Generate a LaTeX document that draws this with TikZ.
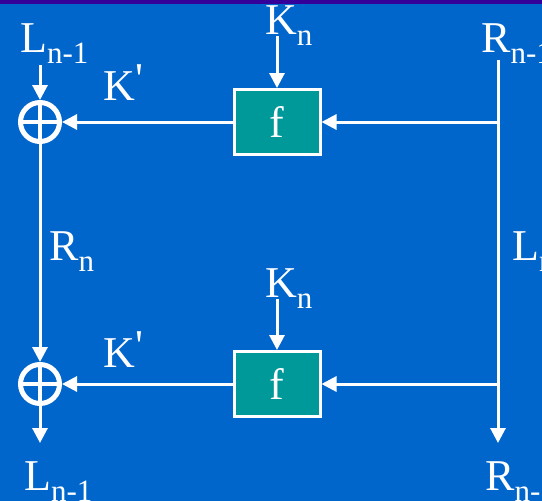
\documentclass[tikz,border=0pt]{standalone}
\usepackage{fontspec}
\setmainfont{Liberation Serif}
\usetikzlibrary{arrows.meta}

\definecolor{fond}{HTML}{0066CC}
\definecolor{bande}{HTML}{330099}
\definecolor{sarcelle}{HTML}{009999}

\newcommand{\indice}[1]{\raisebox{-11pt}{\fontsize{31}{31}\selectfont #1}}
\newcommand{\prim}{\kern1pt\raisebox{.15em}{\textquotesingle}}

\tikzset{
  fleche/.style={white, line width=3pt, -{Triangle[width=15pt,length=15pt]}},
  xor/.style={circle, draw=white, line width=5pt, minimum size=39pt, inner sep=0pt,
    path picture={
      \draw[white, line width=3.5pt] (path picture bounding box.north) -- (path picture bounding box.south);
      \draw[white, line width=3.5pt] (path picture bounding box.west) -- (path picture bounding box.east);
    }},
  fonction/.style={draw=white, fill=sarcelle, line width=3pt, minimum width=86pt,
    minimum height=65pt, inner sep=0pt, text=white, font=\fontsize{44}{48}\selectfont},
  etiq/.style={anchor=base west, inner sep=0pt, text=white, font=\fontsize{44}{48}\selectfont},
}

\begin{document}
\begin{tikzpicture}[x=1pt, y=-1pt]
  % Fond
  \useasboundingbox (0,0) rectangle (542,501);
  \clip (0,0) rectangle (542,501);
  \fill[fond] (0,0) rectangle (542,501);
  \fill[bande] (0,0) rectangle (542,4);

  % Tour du haut
  \node[xor] (xorH) at (40,122) {};
  \node[fonction] (fH) at (277,122) {f};
  \node[etiq] (LH) at (20,52) {L\indice{n-1}};
  \node[etiq] (KnH) at (265,34) {K\indice{n}};
  \node[etiq] (KpH) at (103,100) {K\prim};
  \node[etiq] (RH) at (481,52) {R\indice{n-1}};
  \coordinate (lH) at (40,65);
  \coordinate (kH) at (277,36);
  \draw[fleche] (lH) -- (xorH);
  \draw[fleche] (kH) -- (fH);

  % Tour du bas
  \node[xor] (xorB) at (40,384) {};
  \node[fonction] (fB) at (277,384) {f};
  \node[etiq] (Rn) at (49,260) {R\indice{n}};
  \node[etiq] (Ln) at (512,260) {L\indice{n}};
  \node[etiq] (KnB) at (265,297) {K\indice{n}};
  \node[etiq] (KpB) at (103,367) {K\prim};
  \node[etiq] (LB) at (24,490) {L\indice{n-1}};
  \node[etiq] (RB) at (485,490) {R\indice{n-1}};
  \coordinate (kB) at (277,299);
  \draw[fleche] (kB) -- (fB);

  % Branche droite
  \coordinate (rH) at (498,60);
  \coordinate (rB) at (498,443);
  \coordinate (lB) at (40,443);
  \draw[fleche] (rH) -- (rB);
  \draw[fleche] (fH.east -| rH) -- (fH.east);
  \draw[fleche] (fB.east -| rH) -- (fB.east);

  % Branche gauche
  \draw[fleche] (fH) -- (xorH);
  \draw[fleche] (fB) -- (xorB);
  \draw[fleche] (xorH) -- (xorB);
  \draw[fleche] (xorB) -- (lB);
\end{tikzpicture}
\end{document}
